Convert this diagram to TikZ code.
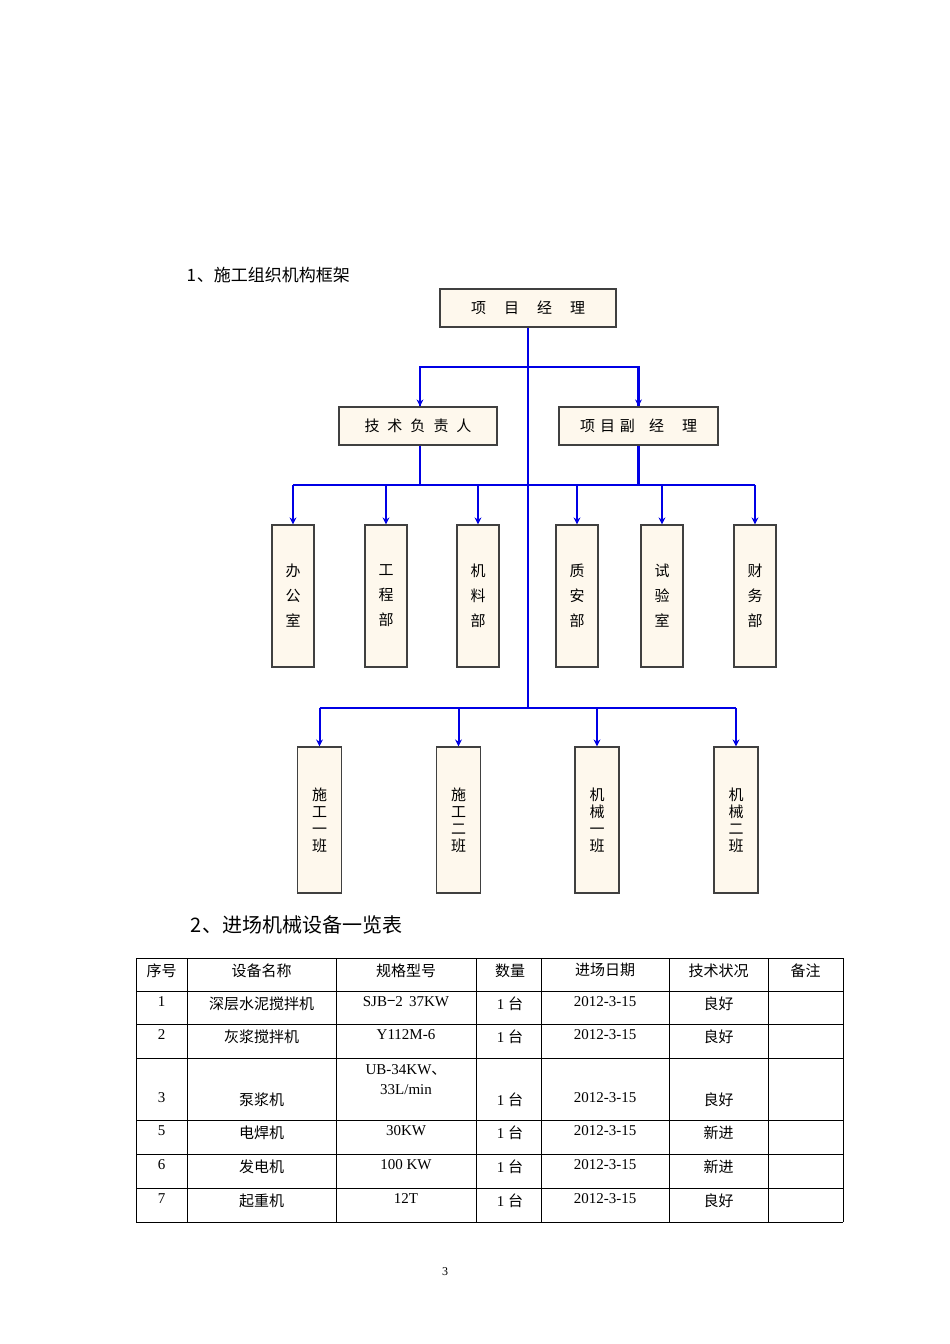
\documentclass[tikz,border=0pt]{standalone}
\usepackage{fontspec}
\setmainfont{Liberation Serif}
\newfontfamily\cjk{Noto Sans CJK SC}
\usetikzlibrary{arrows.meta}
\begin{document}
\begin{tikzpicture}[x=1pt,y=-1pt,
 bx/.style={draw=black!75,line width=1.2pt,fill=yellow!12!orange!6!white,inner sep=0pt,font=\cjk\fontsize{15}{15}\selectfont},
 ln/.style={draw=blue!90!black,line width=2.6pt},
 ar/.style={ln,line width=2pt,-{Stealth[length=7pt,width=7pt]}},
 cell/.style={font=\fontsize{15}{17}\selectfont,anchor=north}]
\useasboundingbox (0,0) rectangle (950,1344);
\node[anchor=west,font=\cjk\fontsize{17}{17}\selectfont] (t1) at (183,275) {1\kern1pt、施工组织机构框架};
\node[bx,minimum width=176,minimum height=38] (pm) at (528,308) {项\hspace{18pt}目\hspace{18pt}经\hspace{18pt}理};
\node[bx,minimum width=158,minimum height=38] (tech) at (418,426) {技\hspace{8pt}术\hspace{8pt}负\hspace{8pt}责\hspace{8pt}人};
\node[bx,minimum width=159,minimum height=38] (vpm) at (638.5,426) {项\hspace{5pt}目\hspace{5pt}副\hspace{14pt}经\hspace{18pt}理};
\foreach \n/\x/\t in {d1/293/{办\\公\\室},d2/386/{工\\程\\部},d3/478/{机\\料\\部},d4/577/{质\\安\\部},d5/662/{试\\验\\室},d6/755/{财\\务\\部}}
  \node[bx,minimum width=42,minimum height=142,align=center,font=\cjk\fontsize{15}{25}\selectfont] (\n) at (\x,596) {\t};
\foreach \n/\x/\t in {b1/319.5/{施\\工\\一\\班},b2/458.5/{施\\工\\二\\班},b3/597/{机\\械\\一\\班},b4/736/{机\\械\\二\\班}}
  \node[bx,minimum width=44,minimum height=146,align=center,font=\cjk\fontsize{15}{17}\selectfont] (\n) at (\x,820) {\t};
\coordinate (j1) at (528,367); \coordinate (j2) at (528,485); \coordinate (j3) at (528,708);
\draw[ln] (pm.south) -- (j3);
\draw[ln] (j1) -| ([xshift=2pt]tech.north);
\draw[ln] (j1) -| (vpm.north);
\draw[ar] ([xshift=2pt]tech.north |- j1) -- ([xshift=2pt]tech.north);
\draw[ar] (vpm.north |- j1) -- (vpm.north);
\draw[ln] ([xshift=2pt]tech.south) -- ([xshift=2pt]tech.south |- j2);
\draw[ln] (vpm.south) -- (vpm.south |- j2);
\draw[ln] (d1.north |- j2) -- (d6.north |- j2);
\foreach \n in {d1,d2,d3,d4,d5,d6} \draw[ar] (\n.north |- j2) -- (\n.north);
\draw[ln] (b1.north |- j3) -- (b4.north |- j3);
\foreach \n in {b1,b2,b3,b4} \draw[ar] (\n.north |- j3) -- (\n.north);
\node[anchor=west,font=\cjk\fontsize{20}{20}\selectfont] (t2) at (187,925) {2\kern1pt、进场机械设备一览表};
% table
\foreach \x in {136,187,336,476,541,669,768,843} \draw[line width=0.8pt] (\x,958) -- (\x,1222);
\foreach \y in {958,991,1024,1058,1120,1154,1188,1222} \draw[line width=0.8pt] (136,\y) -- (843,\y);
\def\cx{{161.5,261.5,406,508.5,605,718.5,805.5}}
\foreach \a/\b/\c/\d/\e/\f/\g/\y in {
 {\cjk 序号}/{\cjk 设备名称}/{\cjk 规格型号}/{\cjk 数量}/{\cjk 进场日期}/{\cjk 技术状况}/{\cjk 备注}/960,
 1/{\cjk 深层水泥搅拌机}/{SJB{\cjk −}2\, 37KW}/{1 \cjk 台}/2012-3-15/{\cjk 良好}//993,
 2/{\cjk 灰浆搅拌机}/Y112M-6/{1 \cjk 台}/2012-3-15/{\cjk 良好}//1026,
 3/{\cjk 泵浆机}//{1 \cjk 台}/2012-3-15/{\cjk 良好}//1089,
 5/{\cjk 电焊机}/30KW/{1 \cjk 台}/2012-3-15/{\cjk 新进}//1122,
 6/{\cjk 发电机}/100 KW/{1 \cjk 台}/2012-3-15/{\cjk 新进}//1156,
 7/{\cjk 起重机}/12T/{1 \cjk 台}/2012-3-15/{\cjk 良好}//1190}{
 \node[cell] at (161.5,\y) {\a};
 \node[cell] at (261.5,\y) {\b};
 \node[cell] at (406,\y) {\c};
 \node[cell] at (510,\y) {\d};
 \node[cell] at (605,\y) {\e};
 \node[cell] at (718.5,\y) {\f};
 \node[cell] at (805.5,\y) {\g};
}
\node[cell,align=center,font=\fontsize{15}{20}\selectfont] at (406,1061) {UB-34KW{\cjk 、}\\33L/min};
\node[font=\fontsize{12}{12}\selectfont] (pg) at (445,1272) {3};
\end{tikzpicture}
\end{document}
